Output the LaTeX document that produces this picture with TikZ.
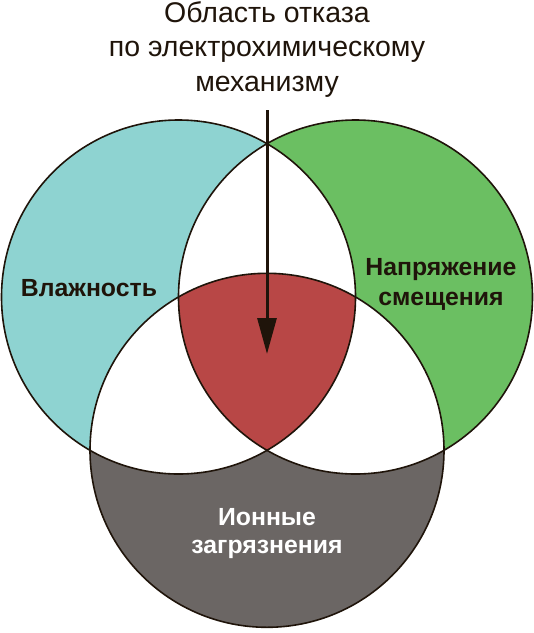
\documentclass[tikz,border=0pt]{standalone}
\usepackage{fontspec}
\setmainfont{Liberation Sans}
\usetikzlibrary{arrows.meta}
\definecolor{tealc}{HTML}{8ED3D1}
\definecolor{greenc}{HTML}{6BBF62}
\definecolor{redc}{HTML}{B84746}
\definecolor{grayc}{HTML}{6B6664}
\definecolor{inkc}{HTML}{1F140A}
\tikzset{
  titletext/.style={anchor=base, inner sep=0pt, text=inkc, font=\fontsize{28.5}{33}\selectfont},
  labeltext/.style={anchor=base, inner sep=0pt, font=\bfseries\fontsize{24.8}{28}\selectfont},
  outline/.style={draw=inkc, line width=1.6pt},
  pointer/.style={draw=inkc, line width=3pt, -{Triangle[length=36pt,width=19pt]}}
}
\begin{document}
\begin{tikzpicture}[x=1pt,y=-1pt]
\useasboundingbox (0,0) rectangle (534,633);
\def\rr{177}
\coordinate (L) at (178.5,297);
\coordinate (R) at (355.5,297);
\coordinate (B) at (267,450.3);
% base fills
\fill[tealc] (L) circle (\rr);
\fill[greenc] (R) circle (\rr);
\fill[grayc] (B) circle (\rr);
% pairwise intersections white
\begin{scope}\clip (L) circle (\rr); \fill[white] (R) circle (\rr); \fill[white] (B) circle (\rr);\end{scope}
\begin{scope}\clip (R) circle (\rr); \fill[white] (B) circle (\rr);\end{scope}
% triple intersection red
\begin{scope}\clip (L) circle (\rr); \clip (R) circle (\rr); \fill[redc] (B) circle (\rr);\end{scope}
% outlines
\draw[outline] (L) circle (\rr);
\draw[outline] (R) circle (\rr);
\draw[outline] (B) circle (\rr);
% title
\node[titletext] (t1) at (267,22.5) {Область отказа};
\node[titletext] (t2) at (267,56.5) {по электрохимическому};
\node[titletext] (t3) at (267,91.5) {механизму};
% arrow
\coordinate (as) at (267,110);
\coordinate (ae) at (267,354);
\draw[pointer] (as) -- (ae);
% labels
\node[labeltext, text=inkc] (hum) at (89,296) {Влажность};
\node[labeltext, text=inkc] (v1) at (441,275) {Напряжение};
\node[labeltext, text=inkc] (v2) at (441,305) {смещения};
\node[labeltext, text=white] (i1) at (267,525) {Ионные};
\node[labeltext, text=white] (i2) at (267,553) {загрязнения};
\end{tikzpicture}
\end{document}
